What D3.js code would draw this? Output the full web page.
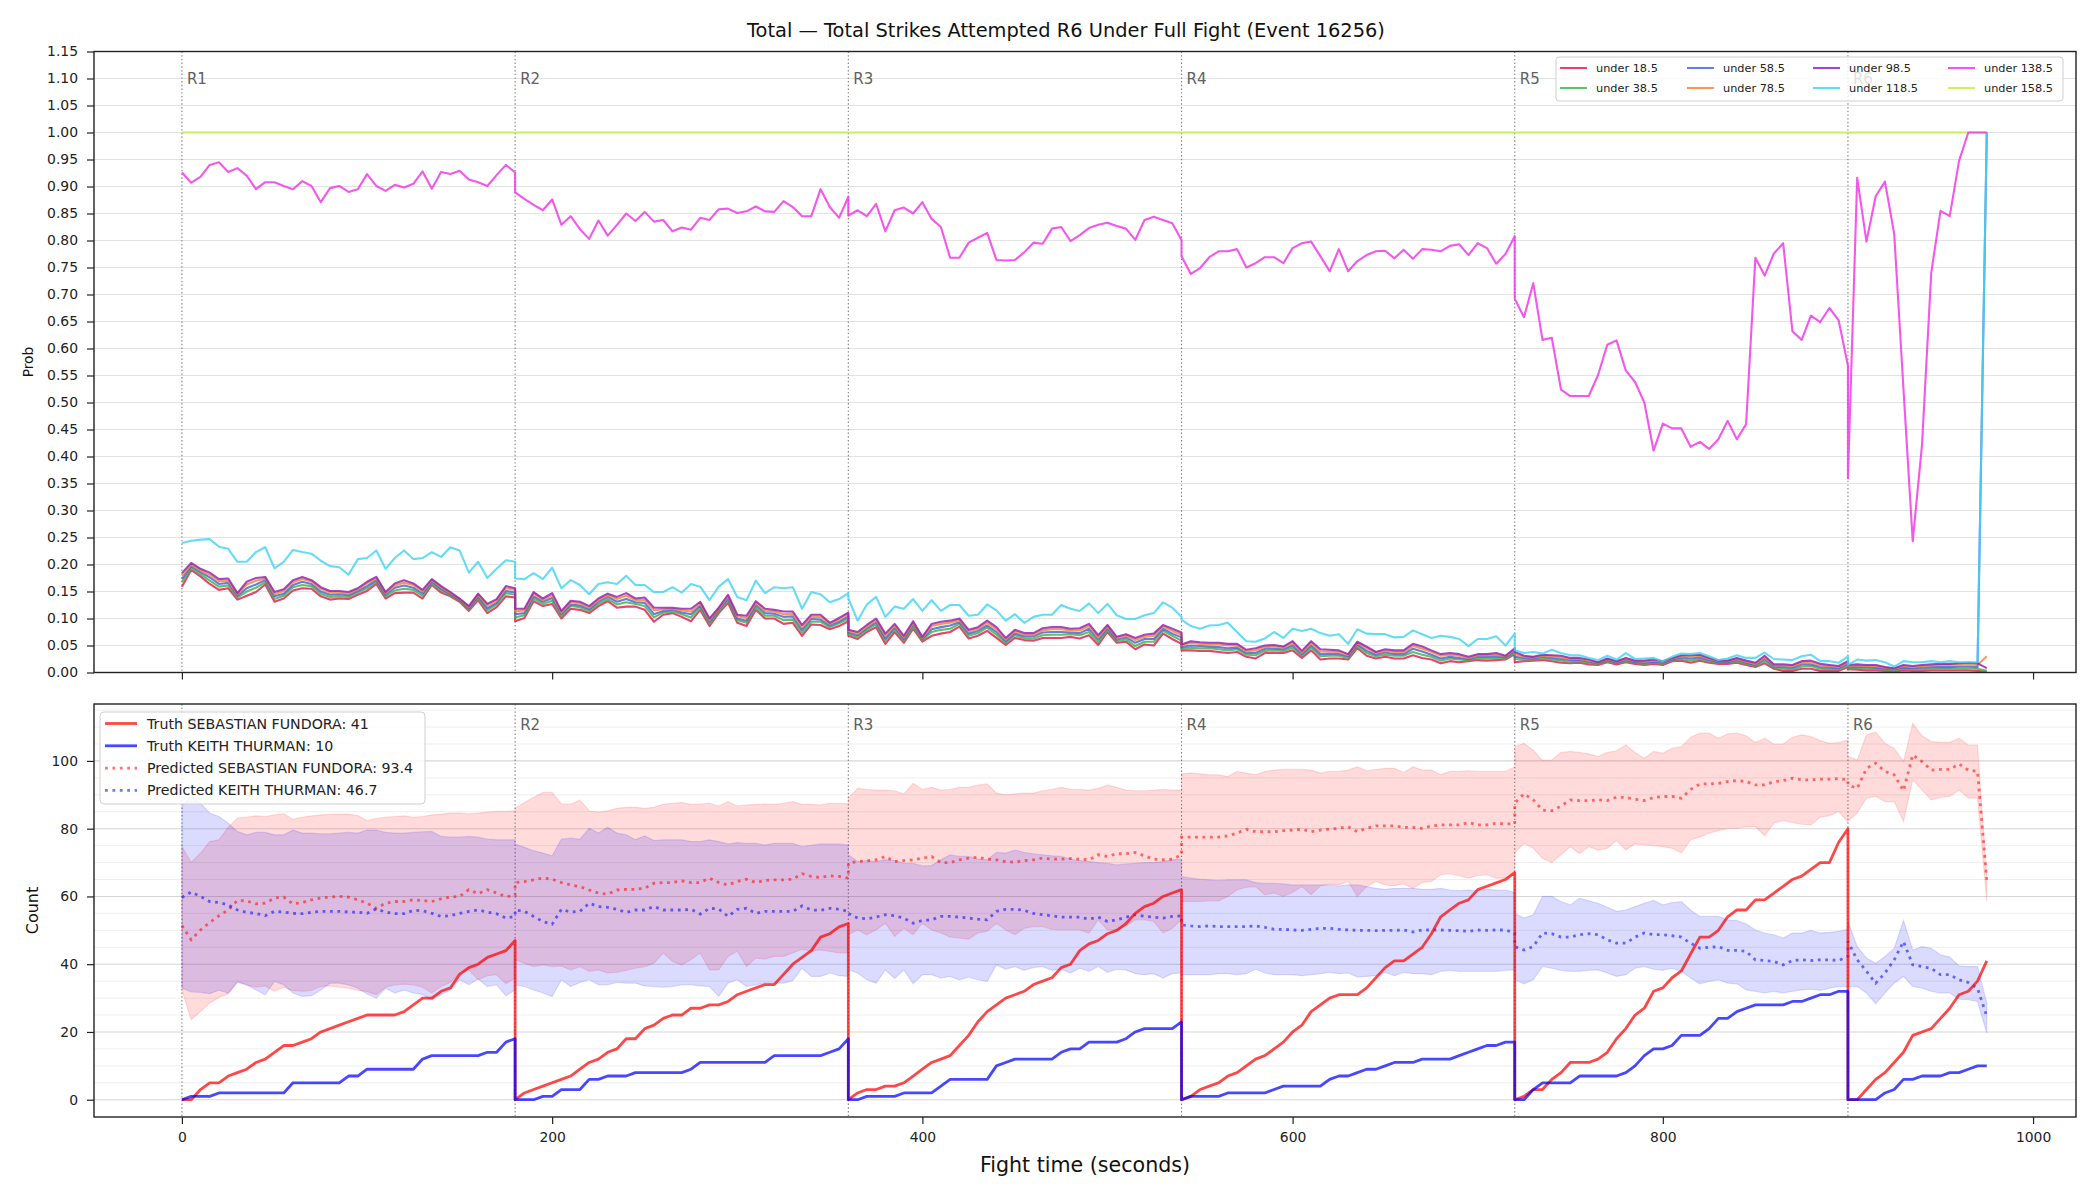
<!DOCTYPE html>
<html>
<head>
<meta charset="utf-8">
<script src="https://cdn.jsdelivr.net/npm/d3@7"></script>
<style>
body { margin: 0; background: #fff; }
text { font-family: "DejaVu Sans", sans-serif; }
</style>
</head>
<body>
<svg id="chart" width="2100" height="1200"></svg>
<script>
// rounds and the 5 second sampling inside a round
var roundStarts = [0, 180, 360, 540, 720, 900];
var roundNames = ["R1", "R2", "R3", "R4", "R5", "R6"];
var stepSecs = [0,5,10,15,20,25,30,35,40,45,50,55,60,65,70,75,80,85,90,95,100,105,110,115,120,125,130,135,140,145,150,155,160,165,170,175,180];

// ---- top panel: P(total strikes under line), one array per round
var under18 = [
 [.159,.190,.178,.164,.153,.156,.135,.142,.149,.163,.131,.137,.152,.156,.155,.141,.135,.137,.136,.144,.151,.164,.137,.147,.148,.148,.137,.162,.148,.141,.131,.114,.134,.110,.121,.141,.139],
 [.095,.101,.132,.123,.127,.100,.118,.116,.110,.123,.132,.120,.122,.122,.116,.094,.107,.110,.103,.095,.116,.086,.110,.129,.092,.086,.116,.100,.100,.090,.092,.068,.089,.088,.080,.086,.095],
 [.068,.062,.075,.084,.053,.075,.055,.081,.057,.068,.072,.075,.085,.063,.068,.077,.064,.051,.064,.060,.059,.064,.064,.064,.066,.063,.069,.051,.075,.055,.057,.043,.052,.050,.072,.062,.053],
 [.041,.041,.040,.040,.038,.036,.038,.029,.026,.036,.036,.036,.041,.027,.041,.024,.026,.026,.024,.045,.031,.026,.029,.026,.026,.032,.027,.024,.017,.021,.019,.021,.023,.022,.023,.024,.034],
 [.019,.021,.022,.023,.021,.018,.017,.018,.015,.014,.019,.015,.019,.016,.014,.016,.014,.021,.022,.018,.022,.018,.016,.016,.018,.014,.010,.017,.007,.003,.003,.007,.007,.003,.003,.003,.010],
 [.006,.005,.004,.004,.003,.002,.004,.003,.003,.004,.004,.004,.004,.004,.003,.001]
];
var under38 = [
 [.167,.194,.182,.170,.159,.161,.139,.150,.157,.167,.136,.142,.158,.162,.160,.146,.140,.141,.140,.148,.156,.168,.141,.152,.155,.153,.142,.165,.152,.143,.133,.117,.138,.115,.126,.147,.144],
 [.102,.106,.137,.127,.133,.104,.123,.121,.114,.127,.136,.126,.130,.127,.123,.102,.111,.113,.108,.102,.121,.090,.113,.134,.097,.092,.121,.105,.105,.097,.098,.074,.094,.094,.084,.091,.100],
 [.071,.066,.079,.089,.059,.080,.059,.085,.060,.075,.079,.081,.090,.068,.073,.083,.070,.055,.069,.064,.063,.069,.070,.070,.071,.069,.075,.056,.079,.058,.061,.049,.057,.057,.077,.068,.059],
 [.044,.046,.045,.045,.043,.041,.043,.033,.032,.040,.041,.040,.046,.031,.046,.030,.031,.031,.027,.049,.036,.030,.033,.031,.031,.038,.033,.029,.022,.026,.024,.023,.026,.026,.027,.026,.037],
 [.025,.024,.024,.026,.024,.022,.020,.021,.018,.016,.021,.017,.021,.018,.016,.018,.016,.023,.025,.022,.025,.021,.018,.018,.021,.016,.012,.021,.009,.007,.006,.011,.012,.007,.006,.006,.013],
 [.008,.008,.007,.007,.005,.004,.007,.006,.006,.007,.008,.008,.008,.008,.007,.003]
];
var under58 = [
 [.173,.197,.186,.176,.164,.166,.142,.156,.163,.171,.141,.146,.162,.168,.164,.150,.144,.145,.143,.151,.160,.171,.144,.157,.161,.157,.146,.168,.155,.145,.134,.119,.141,.119,.129,.151,.148],
 [.108,.110,.141,.131,.138,.108,.126,.124,.117,.131,.140,.131,.136,.130,.129,.108,.114,.116,.111,.108,.124,.094,.116,.137,.100,.096,.125,.110,.109,.103,.104,.079,.099,.098,.087,.094,.104],
 [.074,.069,.082,.093,.063,.083,.062,.089,.062,.080,.084,.087,.093,.072,.077,.087,.075,.058,.072,.067,.067,.074,.075,.075,.074,.073,.081,.061,.082,.061,.065,.055,.062,.062,.081,.072,.065],
 [.047,.050,.049,.048,.047,.045,.046,.036,.036,.044,.044,.043,.050,.034,.050,.034,.035,.034,.030,.052,.040,.033,.037,.034,.034,.044,.039,.033,.026,.029,.027,.025,.029,.029,.030,.028,.040],
 [.029,.027,.026,.029,.027,.025,.023,.023,.020,.017,.023,.018,.023,.019,.018,.020,.018,.024,.028,.026,.028,.023,.019,.019,.023,.018,.014,.025,.011,.010,.009,.015,.015,.010,.009,.008,.016],
 [.010,.010,.010,.009,.007,.006,.009,.008,.009,.010,.010,.010,.011,.011,.010,1.0]
];
var under78 = [
 [.179,.200,.189,.181,.169,.170,.145,.163,.170,.174,.145,.151,.167,.173,.168,.155,.148,.148,.146,.154,.165,.174,.147,.161,.166,.162,.150,.171,.158,.147,.136,.121,.144,.124,.133,.156,.153],
 [.113,.115,.146,.134,.143,.111,.130,.128,.120,.134,.143,.136,.142,.134,.134,.115,.117,.118,.115,.113,.128,.097,.118,.141,.104,.101,.129,.114,.113,.108,.109,.084,.103,.103,.090,.098,.108],
 [.077,.072,.085,.097,.068,.087,.065,.092,.064,.086,.090,.092,.097,.076,.081,.092,.080,.061,.076,.070,.070,.078,.080,.080,.078,.078,.086,.065,.085,.064,.068,.060,.066,.068,.085,.077,.070],
 [.050,.055,.053,.052,.052,.050,.050,.039,.041,.047,.048,.046,.055,.037,.055,.039,.039,.038,.032,.055,.045,.036,.040,.038,.038,.049,.044,.038,.031,.033,.031,.027,.032,.032,.033,.030,.043],
 [.034,.029,.028,.031,.030,.028,.025,.025,.022,.018,.025,.020,.025,.021,.020,.022,.020,.026,.030,.029,.031,.025,.021,.021,.025,.020,.016,.028,.013,.013,.012,.018,.019,.013,.012,.010,.019],
 [.012,.013,.012,.012,.009,.007,.012,.010,.012,.013,.014,.014,.015,.015,.014,.030]
];
var under98 = [
 [.184,.203,.192,.185,.173,.174,.147,.168,.175,.177,.149,.154,.171,.177,.171,.158,.151,.151,.149,.156,.168,.177,.149,.165,.171,.165,.153,.173,.160,.149,.137,.123,.146,.127,.136,.160,.156],
 [.118,.118,.149,.137,.147,.114,.133,.131,.123,.137,.146,.140,.147,.137,.139,.120,.120,.120,.118,.118,.131,.100,.120,.144,.107,.105,.132,.118,.116,.113,.113,.088,.107,.107,.092,.101,.111],
 [.079,.075,.088,.100,.072,.090,.068,.095,.066,.090,.094,.096,.100,.079,.084,.096,.084,.064,.079,.073,.073,.082,.084,.084,.081,.082,.090,.069,.088,.066,.071,.064,.070,.072,.088,.081,.074],
 [.052,.058,.056,.055,.055,.053,.053,.042,.045,.050,.051,.048,.058,.040,.058,.043,.042,.041,.034,.057,.048,.038,.043,.041,.041,.053,.048,.041,.034,.036,.034,.029,.034,.034,.036,.031,.045],
 [.038,.031,.029,.033,.032,.031,.027,.027,.024,.019,.026,.021,.027,.022,.022,.024,.021,.027,.032,.032,.033,.027,.022,.022,.027,.022,.018,.031,.015,.015,.014,.021,.022,.016,.014,.012,.021],
 [.014,.015,.014,.014,.010,.008,.014,.012,.014,.015,.016,.016,.017,.018,.017,.008]
];
var under118 = [
 [.240,.244,.246,.247,.233,.229,.205,.205,.223,.232,.193,.205,.227,.223,.220,.207,.197,.195,.181,.210,.212,.226,.192,.212,.226,.210,.212,.223,.214,.232,.226,.185,.205,.175,.192,.208,.205],
 [.174,.173,.184,.173,.194,.156,.171,.162,.145,.164,.167,.164,.179,.162,.162,.149,.149,.158,.148,.164,.159,.134,.159,.173,.140,.134,.170,.147,.158,.156,.158,.118,.149,.145,.130,.136,.147],
 [.137,.096,.126,.140,.103,.122,.118,.136,.114,.134,.114,.125,.125,.105,.107,.126,.115,.096,.108,.092,.103,.107,.107,.125,.118,.114,.128,.110,.127,.106,.099,.099,.106,.110,.130,.120,.103],
 [.098,.086,.081,.087,.088,.092,.075,.058,.057,.063,.075,.064,.081,.077,.081,.073,.068,.071,.053,.080,.072,.071,.071,.065,.066,.078,.071,.064,.068,.066,.062,.049,.062,.062,.067,.050,.072],
 [.041,.036,.038,.035,.042,.036,.032,.032,.027,.023,.031,.024,.036,.025,.026,.027,.021,.029,.035,.034,.036,.030,.023,.026,.032,.027,.027,.037,.025,.024,.023,.030,.033,.021,.021,.018,.030],
 [.014,.024,.022,.023,.019,.011,.021,.019,.019,.021,.019,.021,.019,.019,.019,1.0]
];
var under138 = [
 [.926,.907,.918,.940,.945,.927,.934,.920,.895,.908,.908,.901,.895,.910,.901,.871,.897,.901,.890,.895,.923,.901,.892,.903,.898,.905,.928,.896,.927,.923,.929,.913,.908,.901,.921,.940,.926],
 [.889,.877,.866,.856,.876,.829,.845,.821,.803,.837,.809,.829,.850,.836,.853,.835,.838,.817,.824,.820,.842,.838,.858,.859,.851,.854,.863,.854,.853,.873,.862,.845,.845,.895,.862,.842,.881],
 [.846,.856,.845,.868,.817,.856,.861,.850,.871,.840,.825,.768,.768,.796,.805,.814,.764,.763,.764,.778,.796,.794,.822,.825,.799,.810,.823,.829,.833,.827,.822,.801,.838,.844,.838,.832,.801],
 [.771,.738,.749,.769,.780,.780,.784,.750,.758,.769,.769,.758,.786,.795,.798,.771,.743,.784,.743,.762,.773,.780,.781,.767,.783,.766,.784,.783,.780,.790,.793,.773,.795,.786,.757,.775,.808],
 [.692,.658,.721,.616,.620,.524,.512,.512,.512,.551,.607,.615,.559,.538,.500,.411,.461,.452,.452,.418,.427,.414,.432,.466,.432,.460,.768,.735,.776,.795,.632,.616,.661,.649,.675,.652,.568],
 [.360,.916,.798,.882,.909,.812,.525,.243,.421,.740,.855,.845,.947,1.0,1.0,1.0]
];
var under158 = [
 [1,1,1,1,1,1,1,1,1,1,1,1,1,1,1,1,1,1,1,1,1,1,1,1,1,1,1,1,1,1,1,1,1,1,1,1,1],
 [1,1,1,1,1,1,1,1,1,1,1,1,1,1,1,1,1,1,1,1,1,1,1,1,1,1,1,1,1,1,1,1,1,1,1,1,1],
 [1,1,1,1,1,1,1,1,1,1,1,1,1,1,1,1,1,1,1,1,1,1,1,1,1,1,1,1,1,1,1,1,1,1,1,1,1],
 [1,1,1,1,1,1,1,1,1,1,1,1,1,1,1,1,1,1,1,1,1,1,1,1,1,1,1,1,1,1,1,1,1,1,1,1,1],
 [1,1,1,1,1,1,1,1,1,1,1,1,1,1,1,1,1,1,1,1,1,1,1,1,1,1,1,1,1,1,1,1,1,1,1,1,1],
 [1,1,1,1,1,1,1,1,1,1,1,1,1,1,1,1]
];
var probNames = ["under 18.5", "under 38.5", "under 58.5", "under 78.5", "under 98.5", "under 118.5", "under 138.5", "under 158.5"];
var probColors = ["#e6194b", "#3cb44b", "#4363d8", "#f58231", "#911eb4", "#42d4f4", "#f032e6", "#bfef45"];

// ---- bottom panel: cumulative strikes per round
var truthFundora = [
 [0,0,3,5,5,7,8,9,11,12,14,16,16,17,18,20,21,22,23,24,25,25,25,25,26,28,30,30,32,33,37,39,40,42,43,44,47],
 [0,2,3,4,5,6,7,9,11,12,14,15,18,18,21,22,24,25,25,27,27,28,28,29,31,32,33,34,34,37,40,42,44,48,49,51,52],
 [0,2,3,3,4,4,5,7,9,11,12,13,16,19,23,26,28,30,31,32,34,35,36,39,40,44,46,47,49,50,52,55,57,58,60,61,62],
 [0,1,3,4,5,7,8,10,12,13,15,17,20,22,26,28,30,31,31,31,33,36,39,41,41,43,45,49,54,56,58,59,62,63,64,65,67],
 [0,1,3,3,6,8,11,11,11,12,14,18,21,25,27,32,33,36,38,43,48,48,50,54,56,56,59,59,61,63,65,66,68,70,70,76,80],
 [0,0,3,6,8,11,14,19,20,21,24,27,31,32,35,41]
];
var truthThurman = [
 [0,1,1,1,2,2,2,2,2,2,2,2,5,5,5,5,5,5,7,7,9,9,9,9,9,9,12,13,13,13,13,13,13,14,14,17,18],
 [0,0,0,1,1,3,3,3,6,6,7,7,7,8,8,8,8,8,8,9,11,11,11,11,11,11,11,11,13,13,13,13,13,13,14,15,18],
 [0,0,1,1,1,1,2,2,2,2,4,6,6,6,6,6,10,11,12,12,12,12,12,14,15,15,17,17,17,17,18,20,21,21,21,21,23],
 [0,1,1,1,1,2,2,2,2,2,3,4,4,4,4,4,6,7,7,8,9,9,10,11,11,11,12,12,12,12,13,14,15,16,16,17,17],
 [0,0,3,5,5,5,5,7,7,7,7,7,8,10,13,15,15,16,19,19,19,21,24,24,26,27,28,28,28,28,29,29,30,31,31,32,32],
 [0,0,0,0,2,3,6,6,7,7,7,8,8,9,10,10]
];
var predFundora = [
 [51.4,47.2,50.1,52.3,54.3,56,58.8,58.7,57.8,58,59.5,59.8,57.8,58.2,59,59.5,59.8,60,59.8,59,58,56.5,58,58.5,58.5,59,58.8,58.5,59.3,59.8,60,62,60.8,62,61,60,60.2],
 [64.1,64.4,64.9,65.4,65.1,64.1,63.4,62.9,61.9,61,60.7,61.9,62.1,62.1,62.4,63.9,64.1,64.1,64.6,64.1,64.1,65.4,64.1,63.4,64.4,65.1,64.1,64.7,64.9,64.9,65.1,66.7,65.9,65.6,66.1,65.9,65.4],
 [69.8,70.3,70.5,70.8,71.8,70.3,70.6,70.8,71.3,71.8,70,70,70.8,71.3,71.6,71,70.8,70.3,70.1,70.6,70.8,71.3,71,71,71.2,71,70.8,72.3,71.8,72.6,72.6,73,72,71,70.8,71,72.3],
 [77.5,77.5,77.5,77.5,77.5,77.9,78.7,79.8,79.1,79.1,79.1,79.4,79.6,79.8,79.1,79.6,79.9,80.1,80.6,79.1,80.1,80.8,80.8,80.8,80.4,80.4,80.1,80.8,81.1,81.1,81.1,81.8,81.1,81.1,81.6,81.4,81.4],
 [87.5,90.3,88.5,85.5,85.3,86.7,88.5,88.3,88.3,88.5,88.3,89.3,89.2,88.7,88.3,89.2,89.5,89.5,89,91.6,93.2,93.2,93.4,93.9,94.2,93.9,92.9,92.9,93.9,94.2,94.9,94.4,94.4,94.6,94.6,94.8,94.4],
 [92.9,91.9,97.8,99.3,96.9,95.9,91.2,101.8,99.8,97.3,97.5,97.5,99.1,97.3,96.9,64.9]
];
var predThurman = [
 [59.7,61.3,60,58.5,58.2,57.5,56,55.3,55,54.3,55.6,55.4,55,54.9,55.3,55.6,55.6,55.6,55.4,55.4,55,56.3,55.4,54.9,54.9,55.9,55.8,55,54.1,54.3,55,55.6,56,55.4,54.9,53.6,54.1],
 [56,55.6,54.1,52.6,51.8,56.2,55.4,55.6,58,57,56.8,56.2,55.3,56,56,57,56,56,56,56.2,54.8,56.5,56.3,54.1,56.2,56.5,55,55.6,55.6,55.6,55.6,57.2,56,55.9,56.5,56.2,55.6],
 [55,53.6,53.4,53.9,54.6,54.3,53.6,52.1,52.9,53.1,54.1,54.1,53.9,53.6,53.3,53.1,55.6,56.2,56.2,55.9,55,54.6,54.3,53.9,53.9,53.9,53.3,53.9,52.6,53.1,53.9,54.6,54.1,53.9,53.6,54.1,54.3],
 [51.6,51.3,51.1,51.3,51.1,51.1,51.1,51.1,51.3,50.9,50.3,50.3,50.1,50,50.3,50.6,50.6,50.3,50.1,50,50,49.9,50,50,50.1,49.5,50.1,50.1,50.1,50,49.9,49.7,50.1,50,50.1,50.1,49.2],
 [45.2,44.2,45.2,49.2,49,48,48,48.7,49,48.7,47.2,46.2,46.2,48,49.2,48.7,48.7,48.4,48,46.2,44.7,45,45.2,44.1,44.1,43.8,41.3,41.1,40.8,39.8,41.1,41.3,41.1,41.3,41.3,41.1,42.3],
 [46.7,41.3,37.9,34.4,37.4,41.3,46.7,39.8,39.3,38.8,36.9,36.9,35.4,34.6,32.9,24.6]
];
var bandFundoraHi = [
 [74.7,70.1,72.8,76.2,76.7,80.4,83.1,83.4,83.8,83.6,84.1,84.4,82.8,83.4,83.8,84.1,84.2,84.3,84.3,83.9,82.4,83,83.4,83.6,83.8,83.4,83.6,84.1,84.3,84.6,84.6,84.4,84.6,84.9,85.1,85.1,85.3],
 [86,87.7,89.3,90.7,90.7,87.3,87.3,88.5,85.3,84.9,85.3,86,86.3,86.3,86,86.3,87.2,87.5,87.7,87.2,87.3,87.5,86.7,88,86.7,87,87.2,87.3,87.2,87.5,88,87.2,87.2,87,87.5,87.5,87.3],
 [89,91.9,91.6,91.4,91.4,91.2,90.2,93.4,91.6,92.2,91.4,91.6,92.2,92.2,92.9,93.2,90.5,90,90.3,90.5,90.5,91.2,91.6,92.2,91.6,91.6,91.4,91.9,92.9,92.2,91.4,91.2,91.2,91.4,91.6,91.4,91.4],
 [96.2,96.4,96.2,95.9,95.9,95.4,96.9,96.4,95.9,96.9,97.3,97.5,97.5,97.5,97.3,96.4,96.9,96.9,97.3,98.3,97.1,97.5,97.8,97.8,96.6,98.3,97.3,97.3,95.9,96.9,96.9,97.1,96.9,96.9,96.9,96.9,98.3],
 [104.2,105.2,103.2,100.1,100.3,102.5,102.8,102.5,102.1,101.3,102.5,103,104.7,102.5,100.8,102.8,102.3,103.7,104.2,107,108.2,108.2,106.7,108,108.2,107.4,105.4,106.7,105,105,107,107.7,107.2,106,105.2,105.4,106.2],
 [101.3,100.3,107.7,108.5,105.2,103.7,99.8,111.1,107.4,105.7,105.5,105.5,106.7,104.7,104.7,65.5]
];
var bandFundoraLo = [
 [32.4,23.6,26,28.5,30.2,31.3,34.9,33.9,33.2,33.6,32,33.2,32.2,32,32.3,33.4,33.6,33.2,32.9,32.3,31.9,31,33.2,33.9,34.1,33.9,33.2,31.5,33.4,34.6,37.4,38.3,35.4,36.6,36.9,34.2,35.9],
 [41.3,40.3,39.3,39.8,39.3,39.5,38.3,39.3,37.9,38.3,37.4,37.6,38.2,38.8,39.3,40.3,43.3,40.8,39.8,41.3,43.3,38.3,38.3,42.3,43.8,39.3,41.8,41.5,42.3,42.3,43.3,44.4,43.8,44.2,43.8,43.3,43.3],
 [48.7,50.1,48.7,50.1,52.1,48.2,50.6,48.7,52.1,50.1,49.2,48,47.7,47.4,49.2,49.7,52.1,50.1,48.7,50.6,51.1,51.1,50.3,50.1,50.1,50.1,49.2,53.1,50.1,50.1,51.3,53.1,53.1,52.6,49.2,50.6,53.1],
 [58.5,58.5,58.5,58.7,58.7,60,61.9,62.7,62.9,60.5,61,60,61.2,62.9,60.5,63.1,63.7,63.4,64.4,60,62.9,64.4,63.4,63.1,63.7,62.4,64.1,64.4,66.4,66.7,66.1,65.4,66.1,66.4,65.4,65.4,66.9],
 [72.8,75.7,74.2,71.3,70,72.3,74.7,72.6,74.7,73.7,74.2,76.5,73.7,75.5,75.2,75,74.7,74.2,72.8,76.7,77.5,78.7,79.4,80.1,80.1,80.6,80.6,77.9,81.6,82.4,81.8,81.3,81.1,83.4,83.8,85.1,81.8],
 [82.1,84.6,89,89.5,88,88,82.1,94.4,91.4,88.5,89.2,89.5,91.4,89,89,58.5]
];
var bandThurmanHi = [
 [86.6,90,87.5,84.6,83.6,81.6,79.2,78.2,78.9,78.9,78.2,78.2,79.6,78.7,78.7,78.5,78.5,78.7,78.9,78.7,79.6,79.6,78.9,78.7,78.7,78.9,79.1,79.2,77.7,77.5,77.5,77.7,77.5,76.9,76.7,76.7,76.7],
 [75.5,74.5,73.5,72.8,72,76.9,77.2,76.9,80.1,78.7,80.4,78.7,78.2,76.7,77.9,76.5,76.7,76.7,76.7,76.2,76.2,76.7,76.2,75.5,75.9,75.7,75.7,75.2,75.7,75.7,75.7,74.7,75.1,75.5,75.5,75.5,75.2],
 [72.3,70.3,70.6,70.3,70.8,70.6,69.8,69.8,69,69.1,70.8,72.3,71.8,71.8,71,70.8,73,72.8,73.7,73,72.6,72.3,72,71.8,71,70.6,70.3,70,69.8,69.3,69.6,69.8,70,70,70.3,70.8,71],
 [65.9,65.4,65.1,64.9,64.7,64.9,64.9,64.9,64.1,63.9,63.9,63.7,63.4,63.4,63.4,63.4,63.4,63.1,63.4,63.4,62.9,62.4,62.1,62.4,62.4,62.4,62.1,62.1,62.4,61.9,61.7,61.9,61.7,62.1,61.9,61.9,61.2],
 [55,53.6,54.6,60,60,58.5,57.5,59.5,58.7,58,56.8,55.6,56,57,58,58.8,57.5,58.2,58.5,56,54.1,54.1,54.1,53.1,52.9,51.9,50.1,49.2,48.7,47.7,49.2,49.2,50,49.2,49.4,49.7,50.3],
 [52.6,45.2,41.8,40.3,42.3,44.7,52.9,44.2,45.2,44.7,42.8,42.1,39.5,39.3,39.3,28.5]
];
var bandThurmanLo = [
 [33,31.8,31.7,31.3,32.3,31.5,34.6,33.9,32.4,31,34.9,33.9,31.5,30.5,30.7,32.4,34.4,34.4,33.9,32.9,31.2,30,32.9,31.5,32.4,31.5,31,29.5,31,32.4,35.4,33.9,35.6,33.4,33.9,30.7,32.4],
 [33.9,33.4,32.4,31.5,30.5,35.4,33.4,34.6,35.4,33.9,33.9,34.6,34.4,34.4,33.6,33.4,33.2,33.4,33.9,33.9,33.6,33.4,30.5,34.4,35.4,33.4,33.9,34.4,34.4,34.4,35.1,38.8,36.4,36.4,37.4,36.6,36.4],
 [38.3,37.4,35.4,34.4,38.3,35.8,38.3,34.2,36.9,36.9,35.9,36.4,35.4,36.2,35.4,34.9,39.8,38.5,39.3,38.2,39,39.3,38.2,38.5,37.4,38.8,37.9,39.3,37.6,38.5,38.3,37.2,36.9,37.2,35.9,37.2,37.4],
 [36.9,36.9,36.9,36.9,37.2,37.2,36.9,37.2,38.5,37.4,36.9,36.9,36.9,36.6,36.9,37.2,37.6,37.2,37.4,36.2,36.4,36.6,37.6,36.6,37.6,37.2,37.2,36.9,37.9,38.2,37.9,37.9,37.9,37.9,37.9,38.2,38.3],
 [35.4,34.2,35.4,39.3,38.8,38.2,37.9,37.9,38.2,38.3,37.4,36.4,36.9,38.8,39.3,38.5,38.2,38.8,37.9,35.9,34.2,34.9,35.4,34.4,34.2,32.4,32,31.5,32,31.5,32,32.4,32.6,32.3,32.9,33.4,33.4],
 [33.4,33.4,31.5,28.3,31.5,34.4,36.4,33.4,32.9,32,31.5,31.5,29.7,29.5,29,19.7]
];
var countLegend = ["Truth SEBASTIAN FUNDORA: 41", "Truth KEITH THURMAN: 10", "Predicted SEBASTIAN FUNDORA: 93.4", "Predicted KEITH THURMAN: 46.7"];

var titleText = "Total \u2014 Total Strikes Attempted R6 Under Full Fight (Event 16256)";
var timeTicks = [0, 200, 400, 600, 800, 1000];
var countTicks = [0, 20, 40, 60, 80, 100];

// ---------------------------------------------------------------
function toPoints(rounds) {
    var pts = [];
    rounds.forEach(function(vals, r) {
        vals.forEach(function(v, i) { pts.push({t: roundStarts[r] + stepSecs[i], v: v}); });
    });
    return pts;
}
function toBand(lo, hi) {
    var pts = [];
    lo.forEach(function(vals, r) {
        vals.forEach(function(v, i) { pts.push({t: roundStarts[r] + stepSecs[i], lo: v, hi: hi[r][i]}); });
    });
    return pts;
}

var svg = d3.select('#chart');
var left = 94, right = 2076;
var top1 = 51.5, bot1 = 672.5, top2 = 704, bot2 = 1117;

var x = d3.scaleLinear().domain([-47.5, 1023.2]).range([left, right]);
var yProb = d3.scaleLinear().domain([0, 1.15]).range([bot1, top1]);
var yCount = d3.scaleLinear().domain([-5.1, 116.8]).range([bot2, top2]);

var defs = svg.append('defs');
defs.append('clipPath').attr('id', 'clip1').append('rect')
    .attr('x', left).attr('y', top1).attr('width', right - left).attr('height', bot1 - top1);
defs.append('clipPath').attr('id', 'clip2').append('rect')
    .attr('x', left).attr('y', top2).attr('width', right - left).attr('height', bot2 - top2);

// ---- grids
var probTicks = yProb.ticks(23);
svg.append('g').selectAll('line').data(probTicks).enter().append('line')
    .attr('x1', left).attr('x2', right)
    .attr('y1', function(d) { return yProb(d); }).attr('y2', function(d) { return yProb(d); })
    .attr('stroke', '#e3e3e3').attr('stroke-width', 1);

var minorCounts = d3.range(0, 116, 5);
svg.append('g').selectAll('line').data(minorCounts).enter().append('line')
    .attr('x1', left).attr('x2', right)
    .attr('y1', function(d) { return yCount(d); }).attr('y2', function(d) { return yCount(d); })
    .attr('stroke', function(d) { return d % 20 === 0 ? '#d6d6d6' : '#ececec'; })
    .attr('stroke-width', function(d) { return d % 20 === 0 ? 1.1 : 0.9; });

// ---- round markers
[[top1, bot1, 83.5], [top2, bot2, 729.5]].forEach(function(p) {
    var g = svg.append('g');
    g.selectAll('line').data(roundStarts).enter().append('line')
        .attr('x1', function(d) { return x(d); }).attr('x2', function(d) { return x(d); })
        .attr('y1', p[0]).attr('y2', p[1])
        .attr('stroke', '#555').attr('stroke-width', 1.1).attr('stroke-opacity', 0.75)
        .attr('stroke-dasharray', '1.4,2.3');
    g.selectAll('text').data(roundStarts).enter().append('text')
        .attr('x', function(d) { return x(d) + 5; }).attr('y', p[2])
        .attr('font-size', 15).attr('fill', '#606060')
        .text(function(d, i) { return roundNames[i]; });
});

// ---- top panel lines
var probSeries = [under18, under38, under58, under78, under98, under118, under138, under158];
var probLine = d3.line().x(function(d) { return x(d.t); }).y(function(d) { return yProb(d.v); });
var drawOrder = [7, 0, 1, 2, 3, 4, 5, 6];
var gProb = svg.append('g').attr('clip-path', 'url(#clip1)');
drawOrder.forEach(function(k) {
    gProb.append('path').datum(toPoints(probSeries[k]))
        .attr('d', probLine).attr('fill', 'none')
        .attr('stroke', probColors[k]).attr('stroke-opacity', 0.82)
        .attr('stroke-width', 2.1).attr('stroke-linejoin', 'round');
});

// ---- bottom panel
var gCount = svg.append('g').attr('clip-path', 'url(#clip2)');
var band = d3.area().x(function(d) { return x(d.t); })
    .y0(function(d) { return yCount(d.lo); }).y1(function(d) { return yCount(d.hi); });
var countLine = d3.line().x(function(d) { return x(d.t); }).y(function(d) { return yCount(d.v); });

[[bandFundoraLo, bandFundoraHi, '#ff0000'], [bandThurmanLo, bandThurmanHi, '#0000ff']].forEach(function(b) {
    gCount.append('path').datum(toBand(b[0], b[1]))
        .attr('d', band).attr('fill', b[2]).attr('fill-opacity', 0.14)
        .attr('stroke', b[2]).attr('stroke-opacity', 0.12).attr('stroke-width', 1.2);
});
[[predFundora, '#ff0000'], [predThurman, '#0000ff']].forEach(function(p) {
    gCount.append('path').datum(toPoints(p[0]))
        .attr('d', countLine).attr('fill', 'none')
        .attr('stroke', p[1]).attr('stroke-opacity', 0.55)
        .attr('stroke-width', 2.8).attr('stroke-dasharray', '2.8,4.6');
});
[[truthFundora, '#ff0000'], [truthThurman, '#0000ff']].forEach(function(p) {
    gCount.append('path').datum(toPoints(p[0]))
        .attr('d', countLine).attr('fill', 'none')
        .attr('stroke', p[1]).attr('stroke-opacity', 0.72)
        .attr('stroke-width', 2.8).attr('stroke-linejoin', 'round');
});

// ---- axes
function styleAxis(g) {
    g.select('.domain').remove();
    g.selectAll('.tick line').attr('stroke', '#222').attr('stroke-width', 1.2);
    g.selectAll('.tick text').attr('fill', '#222').attr('font-size', 13.9)
        .attr('font-family', '"DejaVu Sans", sans-serif');
}
svg.append('g').attr('transform', 'translate(' + left + ',0)')
    .call(d3.axisLeft(yProb).tickValues(probTicks).tickFormat(d3.format('.2f')).tickSize(7).tickPadding(9))
    .call(styleAxis);
svg.append('g').attr('transform', 'translate(0,' + bot1 + ')')
    .call(d3.axisBottom(x).tickValues(timeTicks).tickFormat('').tickSize(7))
    .call(styleAxis);
svg.append('g').attr('transform', 'translate(' + left + ',0)')
    .call(d3.axisLeft(yCount).tickValues(countTicks).tickFormat(d3.format('d')).tickSize(7).tickPadding(9))
    .call(styleAxis);
svg.append('g').attr('transform', 'translate(0,' + bot2 + ')')
    .call(d3.axisBottom(x).tickValues(timeTicks).tickFormat(d3.format('d')).tickSize(7).tickPadding(8))
    .call(styleAxis);

// frames
[[top1, bot1], [top2, bot2]].forEach(function(p) {
    svg.append('rect').attr('x', left).attr('y', p[0])
        .attr('width', right - left).attr('height', p[1] - p[0])
        .attr('fill', 'none').attr('stroke', '#222').attr('stroke-width', 1.4);
});

// ---- texts
svg.append('text').attr('x', 1066).attr('y', 37).attr('text-anchor', 'middle')
    .attr('font-size', 19.4).attr('fill', '#111').text(titleText);
svg.append('text').attr('x', (left + right) / 2).attr('y', 1172).attr('text-anchor', 'middle')
    .attr('font-size', 20.6).attr('fill', '#111').text('Fight time (seconds)');
svg.append('text').attr('transform', 'translate(33,' + (top1 + bot1) / 2 + ') rotate(-90)')
    .attr('text-anchor', 'middle').attr('font-size', 13.8).attr('fill', '#111').text('Prob');
svg.append('text').attr('transform', 'translate(38,' + (top2 + bot2) / 2 + ') rotate(-90)')
    .attr('text-anchor', 'middle').attr('font-size', 16).attr('fill', '#111').text('Count');

// ---- top legend (4 columns, filled column by column)
var lg1 = svg.append('g');
lg1.append('rect').attr('x', 1556).attr('y', 57).attr('width', 507).attr('height', 44).attr('rx', 3)
    .attr('fill', '#fff').attr('fill-opacity', 0.8).attr('stroke', '#cfcfcf').attr('stroke-width', 1);
var colX = [1560, 1687, 1813, 1948];
probNames.forEach(function(name, i) {
    var cx = colX[Math.floor(i / 2)], cy = 68 + (i % 2) * 20;
    lg1.append('line').attr('x1', cx).attr('x2', cx + 27).attr('y1', cy).attr('y2', cy)
        .attr('stroke', probColors[i]).attr('stroke-opacity', 0.82).attr('stroke-width', 2.1);
    lg1.append('text').attr('x', cx + 36).attr('y', cy + 4).attr('font-size', 11.3).attr('fill', '#222').text(name);
});

// ---- bottom legend
var lg2 = svg.append('g');
lg2.append('rect').attr('x', 100).attr('y', 712).attr('width', 325).attr('height', 92).attr('rx', 4)
    .attr('fill', '#fff').attr('fill-opacity', 0.8).attr('stroke', '#cfcfcf').attr('stroke-width', 1);
var lgColors = ['#ff0000', '#0000ff', '#ff0000', '#0000ff'];
countLegend.forEach(function(name, i) {
    var cy = 723.5 + i * 22.3;
    lg2.append('line').attr('x1', 105).attr('x2', 137).attr('y1', cy).attr('y2', cy)
        .attr('stroke', lgColors[i]).attr('stroke-opacity', i < 2 ? 0.72 : 0.55)
        .attr('stroke-width', 2.8).attr('stroke-dasharray', i < 2 ? null : '2.8,4.6');
    lg2.append('text').attr('x', 147).attr('y', cy + 5).attr('font-size', 14.2).attr('fill', '#222').text(name);
});
</script>
</body>
</html>
